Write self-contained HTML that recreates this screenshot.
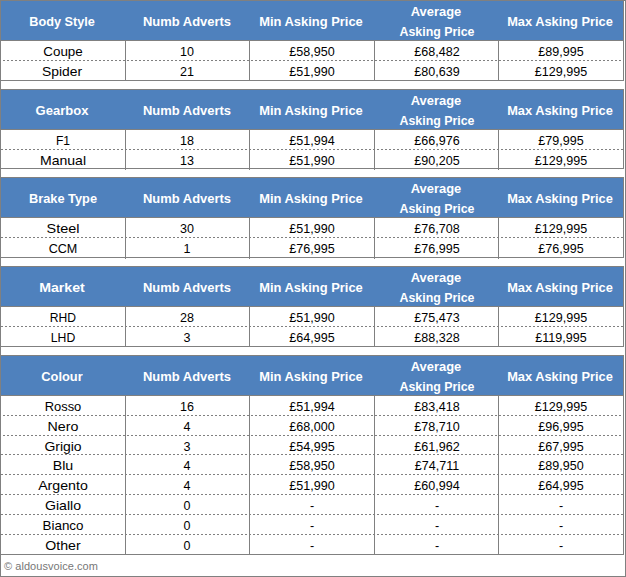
<!DOCTYPE html>
<html><head><meta charset="utf-8"><title>Asking prices</title>
<style>
html,body{margin:0;padding:0;background:#fff}
body{width:626px;height:577px;position:relative;overflow:hidden;font-family:"Liberation Sans",sans-serif}
.r{position:absolute}
.d{position:absolute;height:1px;background:repeating-linear-gradient(to right,#808080 0,#808080 2px,transparent 2px,transparent 4px)}
.t{position:absolute;width:200px;text-align:center;line-height:20px;white-space:nowrap}
.h{color:#fff;font-weight:bold}
.b{color:#000}
.c{position:absolute;color:#777;font-size:11px;line-height:16px;white-space:nowrap;letter-spacing:0.05px}
</style></head><body>
<div class="r" style="left:1px;top:1px;width:622px;height:39px;background:#4f81bd"></div>
<div class="r" style="left:0px;top:0px;width:624px;height:1px;background:#808080"></div>
<div class="r" style="left:0px;top:40px;width:624px;height:1px;background:#808080"></div>
<div class="r" style="left:623px;top:0px;width:1px;height:81px;background:#808080"></div>
<div class="t h" style="left:-38.16px;top:11.50px;font-size:13px;transform:scaleX(0.9755)">Body Style</div>
<div class="t h" style="left:87.20px;top:11.50px;font-size:13px;transform:scaleX(0.9967)">Numb Adverts</div>
<div class="t h" style="left:211.43px;top:11.50px;font-size:13px;transform:scaleX(0.9937)">Min Asking Price</div>
<div class="t h" style="left:335.68px;top:1.50px;font-size:13px;transform:scaleX(0.9941)">Average</div>
<div class="t h" style="left:336.64px;top:21.50px;font-size:13px;transform:scaleX(0.9520)">Asking Price</div>
<div class="t h" style="left:459.97px;top:11.50px;font-size:13px;transform:scaleX(0.9865)">Max Asking Price</div>
<div class="r" style="left:125px;top:40px;width:1px;height:41px;background:#808080"></div>
<div class="r" style="left:249px;top:40px;width:1px;height:41px;background:#808080"></div>
<div class="r" style="left:374px;top:40px;width:1px;height:41px;background:#808080"></div>
<div class="r" style="left:498px;top:40px;width:1px;height:41px;background:#808080"></div>
<div class="d" style="left:3px;top:60px;width:619px"></div>
<div class="t b" style="left:-37.20px;top:41.50px;font-size:13px;transform:scaleX(1.0301)">Coupe</div>
<div class="t b" style="left:87.00px;top:41.50px;font-size:13px;transform:scaleX(0.9650)">10</div>
<div class="t b" style="left:212.20px;top:41.50px;font-size:13px;transform:scaleX(0.9650)">£58,950</div>
<div class="t b" style="left:336.70px;top:41.50px;font-size:13px;transform:scaleX(0.9650)">£68,482</div>
<div class="t b" style="left:461.20px;top:41.50px;font-size:13px;transform:scaleX(0.9650)">£89,995</div>
<div class="r" style="left:0px;top:80px;width:624px;height:1px;background:#808080"></div>
<div class="t b" style="left:-37.55px;top:61.50px;font-size:13px;transform:scaleX(1.0651)">Spider</div>
<div class="t b" style="left:87.00px;top:61.50px;font-size:13px;transform:scaleX(0.9650)">21</div>
<div class="t b" style="left:212.20px;top:61.50px;font-size:13px;transform:scaleX(0.9650)">£51,990</div>
<div class="t b" style="left:336.70px;top:61.50px;font-size:13px;transform:scaleX(0.9650)">£80,639</div>
<div class="t b" style="left:461.20px;top:61.50px;font-size:13px;transform:scaleX(0.9650)">£129,995</div>
<div class="r" style="left:1px;top:90px;width:622px;height:39px;background:#4f81bd"></div>
<div class="r" style="left:0px;top:89px;width:624px;height:1px;background:#808080"></div>
<div class="r" style="left:0px;top:129px;width:624px;height:1px;background:#808080"></div>
<div class="r" style="left:623px;top:89px;width:1px;height:80px;background:#808080"></div>
<div class="t h" style="left:-37.89px;top:100.50px;font-size:13px;transform:scaleX(1.0024)">Gearbox</div>
<div class="t h" style="left:87.20px;top:100.50px;font-size:13px;transform:scaleX(0.9967)">Numb Adverts</div>
<div class="t h" style="left:211.43px;top:100.50px;font-size:13px;transform:scaleX(0.9937)">Min Asking Price</div>
<div class="t h" style="left:335.68px;top:90.50px;font-size:13px;transform:scaleX(0.9941)">Average</div>
<div class="t h" style="left:336.64px;top:110.50px;font-size:13px;transform:scaleX(0.9520)">Asking Price</div>
<div class="t h" style="left:459.97px;top:100.50px;font-size:13px;transform:scaleX(0.9865)">Max Asking Price</div>
<div class="r" style="left:125px;top:129px;width:1px;height:41px;background:#808080"></div>
<div class="r" style="left:249px;top:129px;width:1px;height:41px;background:#808080"></div>
<div class="r" style="left:374px;top:129px;width:1px;height:41px;background:#808080"></div>
<div class="r" style="left:498px;top:129px;width:1px;height:41px;background:#808080"></div>
<div class="d" style="left:1px;top:149px;width:622px"></div>
<div class="t b" style="left:-36.77px;top:130.50px;font-size:13px;transform:scaleX(0.9303)">F1</div>
<div class="t b" style="left:87.00px;top:130.50px;font-size:13px;transform:scaleX(0.9650)">18</div>
<div class="t b" style="left:212.20px;top:130.50px;font-size:13px;transform:scaleX(0.9650)">£51,994</div>
<div class="t b" style="left:336.70px;top:130.50px;font-size:13px;transform:scaleX(0.9650)">£66,976</div>
<div class="t b" style="left:461.20px;top:130.50px;font-size:13px;transform:scaleX(0.9650)">£79,995</div>
<div class="r" style="left:0px;top:168px;width:624px;height:1px;background:#808080"></div>
<div class="t b" style="left:-37.35px;top:150.50px;font-size:13px;transform:scaleX(1.0824)">Manual</div>
<div class="t b" style="left:87.00px;top:150.50px;font-size:13px;transform:scaleX(0.9650)">13</div>
<div class="t b" style="left:212.20px;top:150.50px;font-size:13px;transform:scaleX(0.9650)">£51,990</div>
<div class="t b" style="left:336.70px;top:150.50px;font-size:13px;transform:scaleX(0.9650)">£90,205</div>
<div class="t b" style="left:461.20px;top:150.50px;font-size:13px;transform:scaleX(0.9650)">£129,995</div>
<div class="r" style="left:1px;top:178px;width:622px;height:39px;background:#4f81bd"></div>
<div class="r" style="left:0px;top:177px;width:624px;height:1px;background:#808080"></div>
<div class="r" style="left:0px;top:217px;width:624px;height:1px;background:#808080"></div>
<div class="r" style="left:623px;top:177px;width:1px;height:81px;background:#808080"></div>
<div class="t h" style="left:-36.87px;top:188.50px;font-size:13px;transform:scaleX(0.9840)">Brake Type</div>
<div class="t h" style="left:87.20px;top:188.50px;font-size:13px;transform:scaleX(0.9967)">Numb Adverts</div>
<div class="t h" style="left:211.43px;top:188.50px;font-size:13px;transform:scaleX(0.9937)">Min Asking Price</div>
<div class="t h" style="left:335.68px;top:178.50px;font-size:13px;transform:scaleX(0.9941)">Average</div>
<div class="t h" style="left:336.64px;top:198.50px;font-size:13px;transform:scaleX(0.9520)">Asking Price</div>
<div class="t h" style="left:459.97px;top:188.50px;font-size:13px;transform:scaleX(0.9865)">Max Asking Price</div>
<div class="r" style="left:125px;top:217px;width:1px;height:42px;background:#808080"></div>
<div class="r" style="left:249px;top:217px;width:1px;height:42px;background:#808080"></div>
<div class="r" style="left:374px;top:217px;width:1px;height:42px;background:#808080"></div>
<div class="r" style="left:498px;top:217px;width:1px;height:42px;background:#808080"></div>
<div class="d" style="left:1px;top:237px;width:622px"></div>
<div class="t b" style="left:-37.25px;top:218.50px;font-size:13px;transform:scaleX(1.1126)">Steel</div>
<div class="t b" style="left:87.00px;top:218.50px;font-size:13px;transform:scaleX(0.9650)">30</div>
<div class="t b" style="left:212.20px;top:218.50px;font-size:13px;transform:scaleX(0.9650)">£51,990</div>
<div class="t b" style="left:336.70px;top:218.50px;font-size:13px;transform:scaleX(0.9650)">£76,708</div>
<div class="t b" style="left:461.20px;top:218.50px;font-size:13px;transform:scaleX(0.9650)">£129,995</div>
<div class="r" style="left:0px;top:257px;width:624px;height:1px;background:#808080"></div>
<div class="t b" style="left:-37.26px;top:238.50px;font-size:13px;transform:scaleX(0.9688)">CCM</div>
<div class="t b" style="left:87.00px;top:238.50px;font-size:13px;transform:scaleX(0.9650)">1</div>
<div class="t b" style="left:212.20px;top:238.50px;font-size:13px;transform:scaleX(0.9650)">£76,995</div>
<div class="t b" style="left:336.70px;top:238.50px;font-size:13px;transform:scaleX(0.9650)">£76,995</div>
<div class="t b" style="left:461.20px;top:238.50px;font-size:13px;transform:scaleX(0.9650)">£76,995</div>
<div class="r" style="left:1px;top:267px;width:622px;height:39px;background:#4f81bd"></div>
<div class="r" style="left:0px;top:266px;width:624px;height:1px;background:#808080"></div>
<div class="r" style="left:0px;top:306px;width:624px;height:1px;background:#808080"></div>
<div class="r" style="left:623px;top:266px;width:1px;height:81px;background:#808080"></div>
<div class="t h" style="left:-37.69px;top:277.50px;font-size:13px;transform:scaleX(1.0876)">Market</div>
<div class="t h" style="left:87.20px;top:277.50px;font-size:13px;transform:scaleX(0.9967)">Numb Adverts</div>
<div class="t h" style="left:211.43px;top:277.50px;font-size:13px;transform:scaleX(0.9937)">Min Asking Price</div>
<div class="t h" style="left:335.68px;top:267.50px;font-size:13px;transform:scaleX(0.9941)">Average</div>
<div class="t h" style="left:336.64px;top:287.50px;font-size:13px;transform:scaleX(0.9520)">Asking Price</div>
<div class="t h" style="left:459.97px;top:277.50px;font-size:13px;transform:scaleX(0.9865)">Max Asking Price</div>
<div class="r" style="left:125px;top:306px;width:1px;height:41px;background:#808080"></div>
<div class="r" style="left:249px;top:306px;width:1px;height:41px;background:#808080"></div>
<div class="r" style="left:374px;top:306px;width:1px;height:41px;background:#808080"></div>
<div class="r" style="left:498px;top:306px;width:1px;height:41px;background:#808080"></div>
<div class="d" style="left:1px;top:326px;width:622px"></div>
<div class="t b" style="left:-37.15px;top:307.50px;font-size:13px;transform:scaleX(0.9320)">RHD</div>
<div class="t b" style="left:87.00px;top:307.50px;font-size:13px;transform:scaleX(0.9650)">28</div>
<div class="t b" style="left:212.20px;top:307.50px;font-size:13px;transform:scaleX(0.9650)">£51,990</div>
<div class="t b" style="left:336.70px;top:307.50px;font-size:13px;transform:scaleX(0.9650)">£75,473</div>
<div class="t b" style="left:461.20px;top:307.50px;font-size:13px;transform:scaleX(0.9650)">£129,995</div>
<div class="r" style="left:0px;top:346px;width:624px;height:1px;background:#808080"></div>
<div class="t b" style="left:-37.03px;top:327.50px;font-size:13px;transform:scaleX(0.9407)">LHD</div>
<div class="t b" style="left:87.00px;top:327.50px;font-size:13px;transform:scaleX(0.9650)">3</div>
<div class="t b" style="left:212.20px;top:327.50px;font-size:13px;transform:scaleX(0.9650)">£64,995</div>
<div class="t b" style="left:336.70px;top:327.50px;font-size:13px;transform:scaleX(0.9650)">£88,328</div>
<div class="t b" style="left:461.20px;top:327.50px;font-size:13px;transform:scaleX(0.9650)">£119,995</div>
<div class="r" style="left:1px;top:356px;width:622px;height:39px;background:#4f81bd"></div>
<div class="r" style="left:0px;top:355px;width:624px;height:1px;background:#808080"></div>
<div class="r" style="left:0px;top:395px;width:624px;height:1px;background:#808080"></div>
<div class="r" style="left:623px;top:355px;width:1px;height:200px;background:#808080"></div>
<div class="t h" style="left:-37.92px;top:366.50px;font-size:13px;transform:scaleX(0.9880)">Colour</div>
<div class="t h" style="left:87.20px;top:366.50px;font-size:13px;transform:scaleX(0.9967)">Numb Adverts</div>
<div class="t h" style="left:211.43px;top:366.50px;font-size:13px;transform:scaleX(0.9937)">Min Asking Price</div>
<div class="t h" style="left:335.68px;top:356.50px;font-size:13px;transform:scaleX(0.9941)">Average</div>
<div class="t h" style="left:336.64px;top:376.50px;font-size:13px;transform:scaleX(0.9520)">Asking Price</div>
<div class="t h" style="left:459.97px;top:366.50px;font-size:13px;transform:scaleX(0.9865)">Max Asking Price</div>
<div class="r" style="left:125px;top:395px;width:1px;height:160px;background:#808080"></div>
<div class="r" style="left:249px;top:395px;width:1px;height:160px;background:#808080"></div>
<div class="r" style="left:374px;top:395px;width:1px;height:160px;background:#808080"></div>
<div class="r" style="left:498px;top:395px;width:1px;height:160px;background:#808080"></div>
<div class="d" style="left:3px;top:415px;width:619px"></div>
<div class="t b" style="left:-36.89px;top:396.50px;font-size:13px;transform:scaleX(0.9920)">Rosso</div>
<div class="t b" style="left:87.00px;top:396.50px;font-size:13px;transform:scaleX(0.9650)">16</div>
<div class="t b" style="left:212.20px;top:396.50px;font-size:13px;transform:scaleX(0.9650)">£51,994</div>
<div class="t b" style="left:336.70px;top:396.50px;font-size:13px;transform:scaleX(0.9650)">£83,418</div>
<div class="t b" style="left:461.20px;top:396.50px;font-size:13px;transform:scaleX(0.9650)">£129,995</div>
<div class="d" style="left:3px;top:435px;width:619px"></div>
<div class="t b" style="left:-36.70px;top:416.50px;font-size:13px;transform:scaleX(1.0933)">Nero</div>
<div class="t b" style="left:87.00px;top:416.50px;font-size:13px;transform:scaleX(0.9650)">4</div>
<div class="t b" style="left:212.20px;top:416.50px;font-size:13px;transform:scaleX(0.9650)">£68,000</div>
<div class="t b" style="left:336.70px;top:416.50px;font-size:13px;transform:scaleX(0.9650)">£78,710</div>
<div class="t b" style="left:461.20px;top:416.50px;font-size:13px;transform:scaleX(0.9650)">£96,995</div>
<div class="d" style="left:1px;top:454px;width:622px"></div>
<div class="t b" style="left:-36.75px;top:436.50px;font-size:13px;transform:scaleX(1.0729)">Grigio</div>
<div class="t b" style="left:87.00px;top:436.50px;font-size:13px;transform:scaleX(0.9650)">3</div>
<div class="t b" style="left:212.20px;top:436.50px;font-size:13px;transform:scaleX(0.9650)">£54,995</div>
<div class="t b" style="left:336.70px;top:436.50px;font-size:13px;transform:scaleX(0.9650)">£61,962</div>
<div class="t b" style="left:461.20px;top:436.50px;font-size:13px;transform:scaleX(0.9650)">£67,995</div>
<div class="d" style="left:1px;top:474px;width:622px"></div>
<div class="t b" style="left:-37.09px;top:455.50px;font-size:13px;transform:scaleX(1.0925)">Blu</div>
<div class="t b" style="left:87.00px;top:455.50px;font-size:13px;transform:scaleX(0.9650)">4</div>
<div class="t b" style="left:212.20px;top:455.50px;font-size:13px;transform:scaleX(0.9650)">£58,950</div>
<div class="t b" style="left:336.70px;top:455.50px;font-size:13px;transform:scaleX(0.9650)">£74,711</div>
<div class="t b" style="left:461.20px;top:455.50px;font-size:13px;transform:scaleX(0.9650)">£89,950</div>
<div class="d" style="left:1px;top:494px;width:622px"></div>
<div class="t b" style="left:-36.68px;top:475.50px;font-size:13px;transform:scaleX(1.0913)">Argento</div>
<div class="t b" style="left:87.00px;top:475.50px;font-size:13px;transform:scaleX(0.9650)">4</div>
<div class="t b" style="left:212.20px;top:475.50px;font-size:13px;transform:scaleX(0.9650)">£51,990</div>
<div class="t b" style="left:336.70px;top:475.50px;font-size:13px;transform:scaleX(0.9650)">£60,994</div>
<div class="t b" style="left:461.20px;top:475.50px;font-size:13px;transform:scaleX(0.9650)">£64,995</div>
<div class="d" style="left:1px;top:514px;width:622px"></div>
<div class="t b" style="left:-36.65px;top:495.50px;font-size:13px;transform:scaleX(1.0835)">Giallo</div>
<div class="t b" style="left:87.00px;top:495.50px;font-size:13px;transform:scaleX(0.9650)">0</div>
<div class="t b" style="left:212.20px;top:495.50px;font-size:13px;transform:scaleX(0.9650)">-</div>
<div class="t b" style="left:336.70px;top:495.50px;font-size:13px;transform:scaleX(0.9650)">-</div>
<div class="t b" style="left:461.20px;top:495.50px;font-size:13px;transform:scaleX(0.9650)">-</div>
<div class="d" style="left:1px;top:534px;width:622px"></div>
<div class="t b" style="left:-36.59px;top:515.50px;font-size:13px;transform:scaleX(1.0293)">Bianco</div>
<div class="t b" style="left:87.00px;top:515.50px;font-size:13px;transform:scaleX(0.9650)">0</div>
<div class="t b" style="left:212.20px;top:515.50px;font-size:13px;transform:scaleX(0.9650)">-</div>
<div class="t b" style="left:336.70px;top:515.50px;font-size:13px;transform:scaleX(0.9650)">-</div>
<div class="t b" style="left:461.20px;top:515.50px;font-size:13px;transform:scaleX(0.9650)">-</div>
<div class="r" style="left:0px;top:554px;width:624px;height:1px;background:#808080"></div>
<div class="t b" style="left:-36.86px;top:535.50px;font-size:13px;transform:scaleX(1.0873)">Other</div>
<div class="t b" style="left:87.00px;top:535.50px;font-size:13px;transform:scaleX(0.9650)">0</div>
<div class="t b" style="left:212.20px;top:535.50px;font-size:13px;transform:scaleX(0.9650)">-</div>
<div class="t b" style="left:336.70px;top:535.50px;font-size:13px;transform:scaleX(0.9650)">-</div>
<div class="t b" style="left:461.20px;top:535.50px;font-size:13px;transform:scaleX(0.9650)">-</div>
<div class="r" style="left:0px;top:0px;width:1px;height:577px;background:#808080"></div>
<div class="r" style="left:625px;top:0px;width:1px;height:577px;background:#808080"></div>
<div class="r" style="left:0px;top:576px;width:626px;height:1px;background:#808080"></div>
<div class="r" style="left:0px;top:0px;width:626px;height:1px;background:#808080"></div>
<div class="c" style="left:4px;top:557.5px">© aldousvoice.com</div>
</body></html>
